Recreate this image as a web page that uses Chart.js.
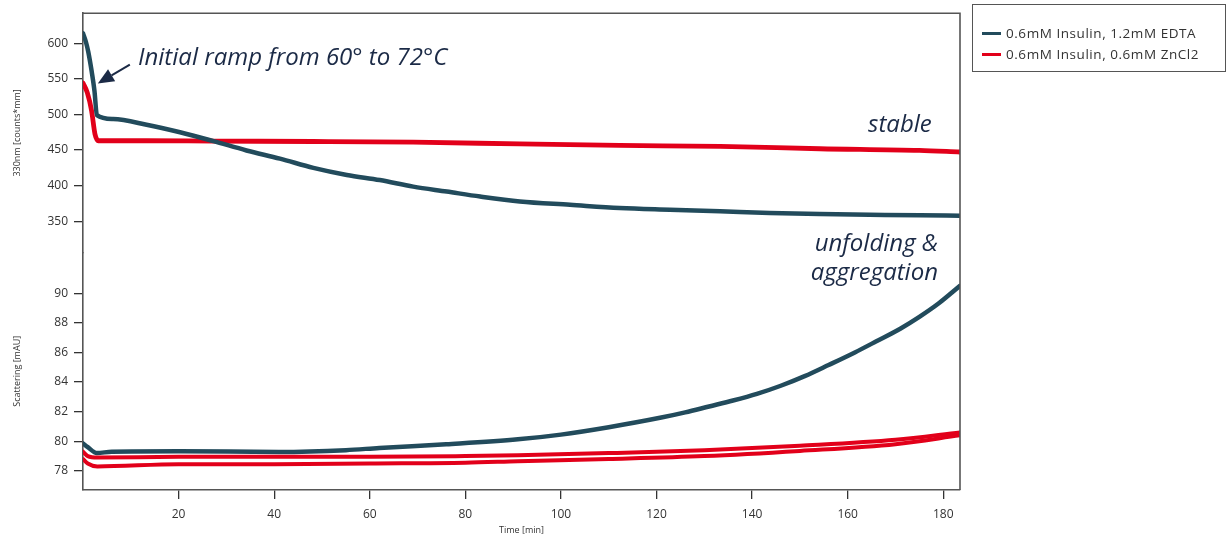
<!DOCTYPE html>
<html>
<head>
<meta charset="utf-8">
<script src="https://cdn.jsdelivr.net/npm/chart.js@4.4.1/dist/chart.umd.min.js"></script>
<style>
html,body{margin:0;padding:0;background:#fff;}
#wrap{position:relative;width:1229px;height:539px;overflow:hidden;}
#c{position:absolute;left:0;top:0;}
#legend{position:absolute;left:972px;top:4px;width:254px;height:68px;border:1px solid #555;box-sizing:border-box;font-family:"Open Sans","Noto Sans",sans-serif;font-size:13.5px;letter-spacing:0.55px;color:#333;}
.li{position:absolute;left:9px;display:flex;align-items:center;white-space:nowrap;}
.sw{width:19px;height:3px;margin-right:5px;}
</style>
</head>
<body>
<div id="wrap">
<canvas id="c" width="1229" height="539" style="width:1229px;height:539px"></canvas>
<div id="legend"></div>
</div>
<script>
// ---------- data ----------
const seriesNames = ['0.6mM Insulin, 1.2mM EDTA', '0.6mM Insulin, 0.6mM ZnCl2'];

// 330nm fluorescence, EDTA
const tFluorEdta = [0, 0.6, 1.1, 1.8, 2.4, 2.9, 6.3, 13.3, 20.3, 27.3, 34.2, 41.2, 48.2, 55.2, 62.1, 69.1, 76.1, 83.1, 91.4, 101.9, 112.3, 122.8, 133.3, 143.7, 154.2, 164.6, 175.1, 183.5];
const fluorEdta  = [614, 602, 588, 561, 533, 499, 493.5, 485.6, 475, 462.5, 449.4, 437.9, 425, 415, 407.8, 398.6, 391.7, 384.7, 377.8, 373.1, 368.5, 366.1, 363.9, 361.5, 360.1, 359.2, 358.3, 357.8];

// 330nm fluorescence, ZnCl2
const tFluorZn = [0, 0.9, 1.8, 2.5, 3.2, 13.3, 27.3, 48.2, 69.1, 91.4, 112.3, 133.3, 154.2, 175.0, 183.5];
const fluorZn  = [544, 530.6, 505, 472.6, 463, 463, 462.5, 462, 461, 458.5, 456.4, 455, 451.8, 449.4, 447.2];

// Scattering, EDTA
const tScatEdta = [0, 1, 2.9, 6, 20, 41, 55, 62, 76, 91, 100, 110, 121, 126, 131, 136, 141, 146, 151, 156, 161.5, 166, 171, 175, 179, 183.5];
const scatEdta  = [79.85, 79.6, 79.2, 79.3, 79.33, 79.28, 79.4, 79.55, 79.8, 80.13, 80.45, 80.95, 81.6, 81.95, 82.35, 82.75, 83.2, 83.75, 84.4, 85.15, 86.0, 86.75, 87.6, 88.4, 89.3, 90.5];

// Scattering, ZnCl2 (two replicate traces)
const tScatZn  = [0, 1, 3, 20, 40, 60, 80, 91, 110, 130, 150, 170, 183.5];
const scatZnA  = [79.3, 79.0, 78.9, 78.95, 78.95, 78.95, 79.0, 79.05, 79.2, 79.4, 79.7, 80.1, 80.6];
const scatZnB  = [78.8, 78.5, 78.3, 78.45, 78.45, 78.5, 78.55, 78.65, 78.8, 79.0, 79.35, 79.8, 80.4];

// ticks
const timeTicks  = [20, 40, 60, 80, 100, 120, 140, 160, 180];
const fluorTicks = [350, 400, 450, 500, 550, 600];
const scatTicks  = [78, 80, 82, 84, 86, 88, 90];

// ---------- styling ----------
const COL_EDTA = '#224b5c';
const COL_ZN = '#e2001a';
const TXT = '#1b2a46';
const FONT = '"Open Sans","Noto Sans",sans-serif';

const pts = (t, v) => t.map((x, i) => ({x: x, y: v[i]}));

function lineDs(label, t, v, color, axis, w) {
  return {
    label: label, data: pts(t, v), xAxisID: 'x', yAxisID: axis,
    borderColor: color, borderWidth: w, pointRadius: 0,
    cubicInterpolationMode: 'monotone', fill: false,
    borderJoinStyle: 'round', borderCapStyle: 'round'
  };
}

const datasets = [
  lineDs(seriesNames[1], tScatZn, scatZnA, COL_ZN, 'yScat', 4),
  lineDs(seriesNames[1], tScatZn, scatZnB, COL_ZN, 'yScat', 4),
  lineDs(seriesNames[0], tScatEdta, scatEdta, COL_EDTA, 'yScat', 4.5),
  lineDs(seriesNames[0], tFluorEdta, fluorEdta, COL_EDTA, 'yFluor', 4.5),
  lineDs(seriesNames[1], tFluorZn, fluorZn, COL_ZN, 'yFluor', 4.8)
];

function fixedTicks(arr) { return function(s) { s.ticks = arr.map(v => ({value: v})); }; }

const tickFont = {family: FONT, size: 12};
const axisGrid = {drawOnChartArea: false, drawTicks: true, tickLength: 9, color: '#333', lineWidth: 1.3};
const axisBorder = {display: true, color: '#555', width: 1.6};

const frame = {
  id: 'frame',
  afterDatasetsDraw(chart) {
    const {ctx, chartArea: a, scales} = chart;
    ctx.save();
    ctx.strokeStyle = '#555';
    ctx.lineWidth = 1.6;
    ctx.beginPath();
    ctx.moveTo(a.left, a.top); ctx.lineTo(a.right, a.top); ctx.lineTo(a.right, a.bottom);
    ctx.stroke();

    const x = scales.x, yF = scales.yFluor, yS = scales.yScat;
    ctx.fillStyle = TXT;
    ctx.font = 'italic 24px ' + FONT;
    ctx.textBaseline = 'alphabetic';
    ctx.textAlign = 'left';
    ctx.fillText('Initial ramp from 60° to 72°C', x.getPixelForValue(11.5), yF.getPixelForValue(570));
    ctx.textAlign = 'right';
    ctx.fillText('stable', x.getPixelForValue(177.6), yF.getPixelForValue(475.3));
    ctx.fillText('unfolding &', x.getPixelForValue(178.9), yF.getPixelForValue(308.8));
    ctx.fillText('aggregation', x.getPixelForValue(178.9), yS.getPixelForValue(90.87));

    // arrow
    const x0 = x.getPixelForValue(9.8), y0 = yF.getPixelForValue(570);
    const x1 = x.getPixelForValue(3.1), y1 = yF.getPixelForValue(543.5);
    const ang = Math.atan2(y1 - y0, x1 - x0);
    const hl = 16, hw = 7;
    const bx = x1 - hl * Math.cos(ang), by = y1 - hl * Math.sin(ang);
    ctx.strokeStyle = TXT; ctx.lineWidth = 2;
    ctx.beginPath(); ctx.moveTo(x0, y0); ctx.lineTo(bx, by); ctx.stroke();
    ctx.beginPath();
    ctx.moveTo(x1, y1);
    ctx.lineTo(bx + hw * Math.sin(ang), by - hw * Math.cos(ang));
    ctx.lineTo(bx - hw * Math.sin(ang), by + hw * Math.cos(ang));
    ctx.closePath(); ctx.fill();
    ctx.restore();
  }
};

new Chart(document.getElementById('c'), {
  type: 'line',
  data: {datasets: datasets},
  options: {
    responsive: false, animation: false, maintainAspectRatio: false,
    layout: {padding: {top: 8, right: 269, bottom: 0, left: 0}},
    plugins: {legend: {display: false}, tooltip: {enabled: false}},
    scales: {
      x: {
        type: 'linear', position: 'bottom', min: 0, max: 183.5,
        afterBuildTicks: fixedTicks(timeTicks),
        afterFit(s) { s.height = 49; },
        ticks: {font: tickFont, color: '#333', padding: 8, maxRotation: 0, autoSkip: false},
        grid: axisGrid, border: axisBorder,
        title: {display: true, text: 'Time [min]', font: {family: FONT, size: 9}, color: '#333', padding: {top: 0, bottom: 3}}
      },
      yScat: {
        type: 'linear', position: 'left', stack: 'panels', stackWeight: 240,
        min: 76.71, max: 92.74,
        afterBuildTicks: fixedTicks(scatTicks),
        afterFit(s) { s.width = 83; },
        ticks: {font: tickFont, color: '#333', padding: 6, autoSkip: false},
        grid: axisGrid, border: axisBorder,
        title: {display: true, text: 'Scattering [mAU]', font: {family: FONT, size: 9}, color: '#333', padding: {top: 12, bottom: 0}}
      },
      yFluor: {
        type: 'linear', position: 'left', stack: 'panels', stackWeight: 242,
        min: 306, max: 642.1,
        afterBuildTicks: fixedTicks(fluorTicks),
        afterFit(s) { s.width = 83; },
        ticks: {font: tickFont, color: '#333', padding: 6, autoSkip: false},
        grid: axisGrid, border: axisBorder,
        title: {display: true, text: '330nm [counts*mm]', font: {family: FONT, size: 9}, color: '#333', padding: {top: 12, bottom: 0}}
      }
    }
  },
  plugins: [frame]
});

// legend (HTML)
const lg = document.getElementById('legend');
[[seriesNames[0], COL_EDTA, 19], [seriesNames[1], COL_ZN, 40]].forEach(([name, col, top]) => {
  const d = document.createElement('div');
  d.className = 'li'; d.style.top = top + 'px';
  const sw = document.createElement('span'); sw.className = 'sw'; sw.style.background = col;
  const tx = document.createElement('span'); tx.textContent = name;
  d.appendChild(sw); d.appendChild(tx); lg.appendChild(d);
});
</script>
</body>
</html>
